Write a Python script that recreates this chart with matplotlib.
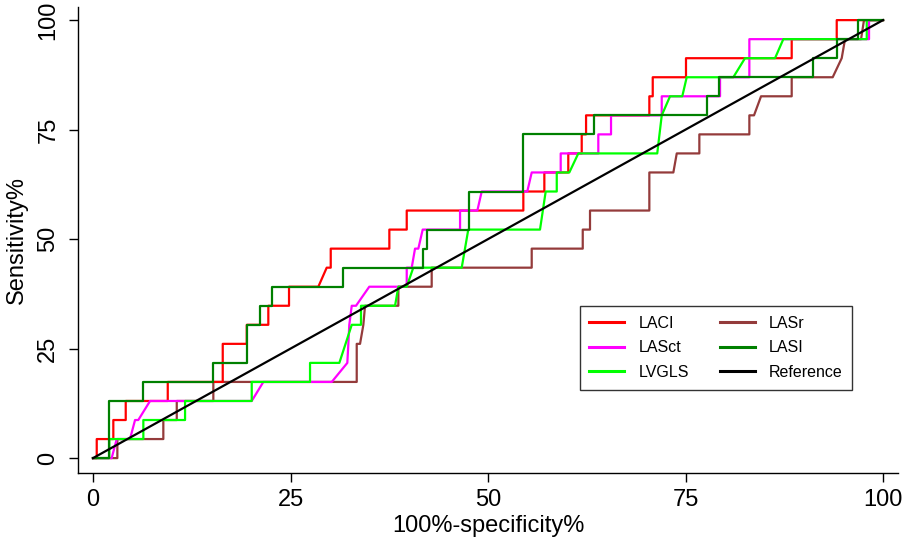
import matplotlib
matplotlib.use("Agg")
import matplotlib.pyplot as plt

plt.rcParams["font.family"] = ["Liberation Sans", "DejaVu Sans"]

N_POS = 23  # true positives are counted in 23rds

# ROC vertices: 100%-specificity (%) and true-positive counts
laci_fpr = [0, 0.47, 0.47, 2.57, 2.57, 4.14, 4.14, 9.46, 9.46, 16.42, 16.42, 19.46,
            19.46, 22.19, 22.19, 24.81, 24.81, 28.52, 29.58, 30.09, 30.09, 37.51,
            37.51, 39.71, 39.71, 54.47, 54.47, 57.13, 57.13, 60.16, 60.16, 61.86,
            61.86, 62.41, 62.41, 70.42, 70.42, 70.85, 70.85, 75.06, 75.06, 88.44,
            88.44, 94.14, 94.14, 100]
laci_tp = [0, 0, 1, 1, 2, 2, 3, 3, 4, 4, 6, 6, 7, 7, 8, 8, 9, 9, 10, 10, 11, 11,
           12, 12, 13, 13, 14, 14, 15, 15, 16, 16, 17, 17, 18, 18, 19, 19, 20, 20,
           21, 21, 22, 22, 23, 23]

lasct_fpr = [0, 2.36, 3.0, 4.68, 5.32, 5.73, 7.22, 20.09, 21.56, 30.22, 32.19, 32.32,
             32.44, 32.75, 33.29, 34.97, 39.71, 39.71, 40.34, 40.76, 41.18, 41.73,
             46.46, 46.46, 48.65, 49.2, 54.97, 55.53, 59.2, 59.2, 63.96, 63.96, 65.57,
             65.57, 71.99, 71.99, 79.37, 79.37, 83.08, 83.08, 98.23, 98.23, 100]
lasct_tp = [0, 0, 1, 1, 2, 2, 3, 3, 4, 4, 5, 6, 7, 8, 8, 9, 9, 10, 10, 11, 11, 12,
            12, 13, 13, 14, 14, 15, 15, 16, 16, 17, 17, 18, 18, 19, 19, 20, 20, 22,
            22, 23, 23]

lvgls_fpr = [0, 2.06, 2.06, 6.37, 6.37, 11.65, 11.65, 20.09, 20.09, 27.47, 27.47,
             31.18, 32.75, 33.92, 33.92, 38.23, 38.65, 39.71, 40.54, 46.67, 47.5,
             56.58, 57.3, 58.7, 58.7, 60.29, 61.43, 71.42, 71.99, 73.04, 74.59, 75.15,
             81.05, 82.53, 86.33, 87.38, 97.94, 97.94, 100]
lvgls_tp = [0, 0, 1, 1, 2, 2, 3, 3, 4, 4, 5, 5, 7, 7, 8, 8, 9, 9, 10, 10, 12, 12,
            14, 14, 15, 15, 16, 16, 18, 19, 19, 20, 20, 21, 21, 22, 22, 23, 23]

lasr_fpr = [0, 3.08, 3.08, 8.9, 8.9, 10.6, 10.6, 15.23, 15.23, 33.38, 33.38, 33.8,
            34.22, 34.43, 38.65, 38.65, 42.87, 42.87, 55.53, 55.53, 61.99, 61.99,
            62.91, 62.91, 70.42, 70.42, 73.46, 73.89, 76.75, 76.75, 83.08, 83.08,
            83.67, 84.56, 88.44, 88.44, 93.63, 94.77, 95.19, 97.22, 97.59, 100]
lasr_tp = [0, 0, 1, 1, 2, 2, 3, 3, 4, 4, 6, 6, 7, 8, 8, 9, 9, 10, 10, 11, 11, 12,
           12, 13, 13, 15, 15, 16, 16, 17, 17, 18, 18, 19, 19, 20, 20, 21, 22, 22,
           23, 23]

lasi_fpr = [0, 2.06, 2.06, 6.37, 6.37, 15.23, 15.23, 19.46, 19.46, 21.14, 21.14, 22.7,
            22.7, 31.68, 31.68, 41.73, 41.73, 42.24, 42.24, 47.63, 47.63, 54.47,
            54.47, 63.46, 63.46, 77.68, 77.68, 79.28, 79.28, 91.1, 91.1, 94.14,
            94.14, 96.87, 96.87, 100]
lasi_tp = [0, 0, 3, 3, 4, 4, 5, 5, 7, 7, 8, 8, 9, 9, 10, 10, 11, 11, 12, 12, 14, 14,
           17, 17, 18, 18, 19, 19, 20, 20, 21, 21, 22, 22, 23, 23]

ref_x = [0, 100]
ref_y = [0, 100]

ticks = [0, 25, 50, 75, 100]


def pct(counts):
    return [c * 100 / N_POS for c in counts]


fig = plt.figure(figsize=(9.05, 5.41), dpi=100)
ax = fig.add_axes([0.0862, 0.1257, 0.9061, 0.8614])

lw = 1.6
# brown drawn first, it sits under the other curves
ax.plot(lasr_fpr, pct(lasr_tp), color="#943b3b", lw=lw, label="LASr", zorder=2)
ax.plot(laci_fpr, pct(laci_tp), color="#ff0000", lw=lw, label="LACI", zorder=3)
ax.plot(lasct_fpr, pct(lasct_tp), color="#ff00ff", lw=lw, label="LASct", zorder=4)
ax.plot(lvgls_fpr, pct(lvgls_tp), color="#00ff00", lw=lw, label="LVGLS", zorder=5)
ax.plot(lasi_fpr, pct(lasi_tp), color="#008000", lw=lw, label="LASI", zorder=6)
ax.plot(ref_x, ref_y, color="black", lw=lw, label="Reference", zorder=7)

ax.set_xlim(-1.9, 101.9)
ax.set_ylim(-3.4, 103.0)
ax.set_xticks(ticks)
ax.set_yticks(ticks)
ax.tick_params(direction="out", length=6.5, width=1, labelsize=17, pad=5)
ax.tick_params(axis="y", pad=7)
for lab in ax.get_yticklabels():
    lab.set_rotation(90)
    lab.set_va("center")

for side in ["top", "right"]:
    ax.spines[side].set_visible(False)
for side in ["left", "bottom"]:
    ax.spines[side].set_linewidth(1)

ax.set_xlabel("100%-specificity%", fontsize=17, labelpad=3)
ax.set_ylabel("Sensitivity%", fontsize=17, labelpad=7)

handles, labels = ax.get_legend_handles_labels()
order = ["LACI", "LASct", "LVGLS", "LASr", "LASI", "Reference"]
hmap = dict(zip(labels, handles))
leg = ax.legend([hmap[k] for k in order], order, ncol=2, loc="upper left",
                bbox_to_anchor=(0.602, 0.375), fontsize=11.5, frameon=True,
                fancybox=False, edgecolor="black", handlelength=2.2,
                handletextpad=0.9, columnspacing=1.9, labelspacing=0.6,
                borderpad=0.6)
leg.get_frame().set_linewidth(1)
for line in leg.get_lines():
    line.set_linewidth(2.2)

fig.savefig("out.png", dpi=100)
